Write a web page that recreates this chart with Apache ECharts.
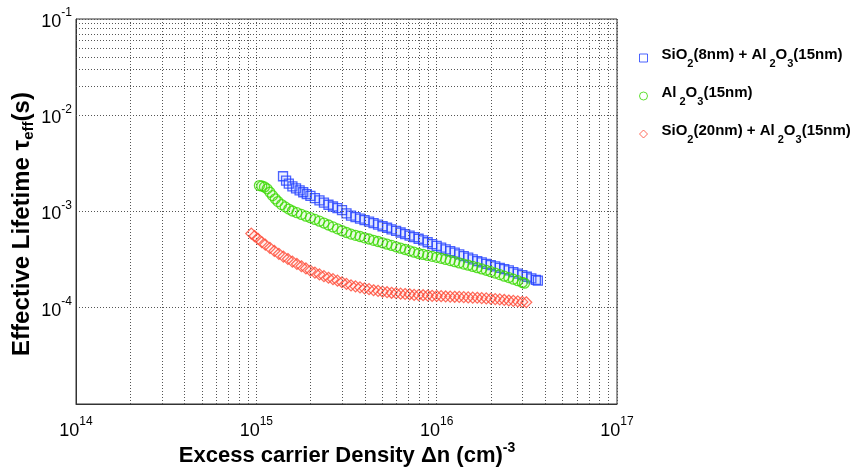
<!DOCTYPE html>
<html>
<head>
<meta charset="utf-8">
<script src="https://cdn.jsdelivr.net/npm/echarts@6/dist/echarts.min.js"></script>
<style>
  html, body { margin: 0; padding: 0; background: #fff; }
  #chart { width: 864px; height: 474px; }
</style>
</head>
<body>
<div id="chart"></div>
<script>
// Effective lifetime vs. excess carrier density for three passivation stacks

const seriesNames = ['SiO2(8nm) + Al2O3(15nm)', 'Al2O3(15nm)', 'SiO2(20nm) + Al2O3(15nm)'];

// SiO2(8nm) + Al2O3(15nm)
const stackA_dn = [1.406e15, 1.462e15, 1.514e15, 1.585e15, 1.660e15, 1.738e15, 1.820e15, 1.905e15, 1.995e15,
  2.113e15, 2.239e15, 2.371e15, 2.512e15, 2.661e15, 2.818e15, 2.985e15, 3.162e15, 3.350e15, 3.548e15, 3.758e15,
  3.981e15, 4.217e15, 4.467e15, 4.732e15, 5.012e15, 5.309e15, 5.623e15, 5.957e15, 6.310e15, 6.683e15, 7.079e15,
  7.499e15, 7.943e15, 8.414e15, 8.913e15, 9.441e15, 1.000e16, 1.059e16, 1.122e16, 1.189e16, 1.259e16, 1.334e16,
  1.413e16, 1.496e16, 1.585e16, 1.679e16, 1.778e16, 1.884e16, 1.995e16, 2.113e16, 2.239e16, 2.371e16, 2.512e16,
  2.661e16, 2.818e16, 2.985e16, 3.162e16, 3.350e16, 3.548e16, 3.640e16];
const stackA_tau = [2.323e-3, 2.089e-3, 1.950e-3, 1.820e-3, 1.738e-3, 1.660e-3, 1.585e-3, 1.514e-3, 1.452e-3,
  1.374e-3, 1.303e-3, 1.236e-3, 1.175e-3, 1.127e-3, 1.084e-3, 1.035e-3, 9.55e-4, 9.08e-4, 8.75e-4, 8.43e-4,
  8.13e-4, 7.85e-4, 7.57e-4, 7.29e-4, 7.03e-4, 6.78e-4, 6.53e-4, 6.30e-4, 6.05e-4, 5.83e-4, 5.62e-4,
  5.42e-4, 5.21e-4, 5.00e-4, 4.79e-4, 4.59e-4, 4.40e-4, 4.21e-4, 4.04e-4, 3.88e-4, 3.73e-4, 3.58e-4,
  3.44e-4, 3.31e-4, 3.18e-4, 3.05e-4, 2.96e-4, 2.86e-4, 2.77e-4, 2.69e-4, 2.60e-4, 2.52e-4, 2.44e-4,
  2.35e-4, 2.26e-4, 2.18e-4, 2.10e-4, 2.02e-4, 1.95e-4, 1.91e-4];

// Al2O3(15nm)
const stackB_dn = [1.040e15, 1.072e15, 1.109e15, 1.148e15, 1.189e15, 1.230e15, 1.274e15, 1.318e15, 1.380e15,
  1.445e15, 1.514e15, 1.585e15, 1.679e15, 1.778e15, 1.884e15, 1.995e15, 2.113e15, 2.239e15, 2.371e15, 2.512e15,
  2.661e15, 2.818e15, 2.985e15, 3.162e15, 3.350e15, 3.548e15, 3.758e15, 3.981e15, 4.217e15, 4.467e15, 4.732e15,
  5.012e15, 5.309e15, 5.623e15, 5.957e15, 6.310e15, 6.683e15, 7.079e15, 7.499e15, 7.943e15, 8.414e15, 8.913e15,
  9.441e15, 1.000e16, 1.059e16, 1.122e16, 1.189e16, 1.259e16, 1.334e16, 1.413e16, 1.496e16, 1.585e16, 1.679e16,
  1.778e16, 1.884e16, 1.995e16, 2.113e16, 2.239e16, 2.371e16, 2.512e16, 2.661e16, 2.818e16, 2.985e16, 3.070e16];
const stackB_tau = [1.858e-3, 1.841e-3, 1.799e-3, 1.718e-3, 1.585e-3, 1.462e-3, 1.355e-3, 1.268e-3, 1.180e-3,
  1.117e-3, 1.059e-3, 1.012e-3, 9.73e-4, 9.33e-4, 8.95e-4, 8.63e-4, 8.28e-4, 7.94e-4, 7.59e-4, 7.24e-4,
  6.92e-4, 6.61e-4, 6.31e-4, 6.05e-4, 5.82e-4, 5.65e-4, 5.50e-4, 5.33e-4, 5.18e-4, 5.02e-4, 4.88e-4,
  4.73e-4, 4.58e-4, 4.44e-4, 4.30e-4, 4.16e-4, 4.03e-4, 3.90e-4, 3.78e-4, 3.66e-4, 3.58e-4, 3.50e-4,
  3.42e-4, 3.34e-4, 3.26e-4, 3.18e-4, 3.09e-4, 3.01e-4, 2.92e-4, 2.84e-4, 2.77e-4, 2.69e-4, 2.61e-4,
  2.53e-4, 2.45e-4, 2.37e-4, 2.29e-4, 2.21e-4, 2.13e-4, 2.06e-4, 1.98e-4, 1.91e-4, 1.83e-4, 1.80e-4];

// SiO2(20nm) + Al2O3(15nm)
const stackC_dn = [9.38e14, 9.77e14, 1.023e15, 1.072e15, 1.122e15, 1.189e15, 1.259e15, 1.334e15, 1.413e15,
  1.496e15, 1.585e15, 1.679e15, 1.778e15, 1.884e15, 1.995e15, 2.113e15, 2.239e15, 2.371e15, 2.512e15, 2.661e15,
  2.818e15, 2.985e15, 3.162e15, 3.350e15, 3.548e15, 3.758e15, 3.981e15, 4.217e15, 4.467e15, 4.732e15, 5.012e15,
  5.309e15, 5.623e15, 5.957e15, 6.310e15, 6.683e15, 7.079e15, 7.499e15, 7.943e15, 8.414e15, 8.913e15, 9.441e15,
  1.000e16, 1.059e16, 1.122e16, 1.189e16, 1.259e16, 1.334e16, 1.413e16, 1.496e16, 1.585e16, 1.679e16, 1.778e16,
  1.884e16, 1.995e16, 2.113e16, 2.239e16, 2.371e16, 2.512e16, 2.661e16, 2.818e16, 2.985e16, 3.140e16];
const stackC_tau = [5.90e-4, 5.56e-4, 5.19e-4, 4.81e-4, 4.52e-4, 4.19e-4, 3.89e-4, 3.63e-4, 3.40e-4,
  3.21e-4, 3.02e-4, 2.85e-4, 2.70e-4, 2.56e-4, 2.43e-4, 2.32e-4, 2.22e-4, 2.13e-4, 2.05e-4, 1.98e-4,
  1.91e-4, 1.84e-4, 1.77e-4, 1.71e-4, 1.67e-4, 1.63e-4, 1.59e-4, 1.56e-4, 1.52e-4, 1.50e-4, 1.47e-4,
  1.45e-4, 1.43e-4, 1.42e-4, 1.40e-4, 1.39e-4, 1.38e-4, 1.36e-4, 1.355e-4, 1.35e-4, 1.34e-4, 1.33e-4,
  1.325e-4, 1.32e-4, 1.31e-4, 1.305e-4, 1.30e-4, 1.295e-4, 1.29e-4, 1.28e-4, 1.275e-4, 1.27e-4, 1.26e-4,
  1.25e-4, 1.24e-4, 1.23e-4, 1.22e-4, 1.205e-4, 1.19e-4, 1.18e-4, 1.165e-4, 1.15e-4, 1.14e-4];

// axis ranges (decades)
const xDecades = [1e14, 1e15, 1e16, 1e17];
const yDecades = [1e-5, 1e-4, 1e-3, 1e-2, 1e-1];

const colors = ['#1f3dff', '#38d800', '#ff4632'];
const FONT = 'Liberation Sans, Arial, Helvetica, sans-serif';

function pairs(xs, ys) { return xs.map((x, i) => [x, ys[i]]); }

// minor grid positions: 2..9 within every decade
function minorValues(decades) {
  const out = [];
  for (let d = 0; d < decades.length - 1; d++) {
    for (let k = 2; k <= 9; k++) out.push(+(decades[d] * k).toPrecision(3));
  }
  return out;
}
const gridLineStyle = { color: '#555', type: [1, 2], width: 1 };

const minorMarks = []
  .concat(minorValues(xDecades).map(v => ({ xAxis: v })))
  .concat(minorValues(yDecades).map(v => ({ yAxis: v })));

function powLabel(v) {
  const e = Math.round(Math.log10(v));
  return '{b|10}{s|' + e + '}';
}
const tickRich = {
  b: { fontSize: 18, fontFamily: FONT, color: '#000', lineHeight: 24, verticalAlign: 'bottom' },
  s: { fontSize: 12, fontFamily: FONT, color: '#000', lineHeight: 9, verticalAlign: 'top' }
};

const legendText = {
  'SiO2(8nm) + Al2O3(15nm)': '{h|SiO}{sub|2}{t|(8nm) + Al}{sub2|2}{t|O}{sub|3}{t|(15nm)}',
  'Al2O3(15nm)': '{h|Al}{sub2|2}{t|O}{sub|3}{t|(15nm)}',
  'SiO2(20nm) + Al2O3(15nm)': '{h|SiO}{sub|2}{t|(20nm) + Al}{sub2|2}{t|O}{sub|3}{t|(15nm)}'
};
const legendBase = { fontSize: 15, fontWeight: 'bold', fontFamily: FONT, color: '#000', lineHeight: 22, verticalAlign: 'top' };
const legendSub = { fontSize: 11, fontWeight: 'bold', fontFamily: FONT, color: '#000', lineHeight: 8, verticalAlign: 'bottom' };

const symbols = ['rect', 'circle', 'diamond'];
const sizes = [9, 10, 11];

const chart = echarts.init(document.getElementById('chart'), null, { renderer: 'canvas' });

chart.setOption({
  animation: false,
  backgroundColor: '#fff',
  grid: { left: 76, top: 19, width: 541, height: 385, show: true, borderColor: '#333', borderWidth: 1, backgroundColor: 'transparent' },
  xAxis: {
    type: 'log', logBase: 10, min: xDecades[0], max: xDecades[xDecades.length - 1],
    axisLine: { show: true, lineStyle: { color: '#333', width: 1 } },
    axisTick: { show: false },
    splitLine: { show: true, lineStyle: gridLineStyle },
    axisLabel: { formatter: powLabel, rich: tickRich, margin: 12 }
  },
  yAxis: {
    type: 'log', logBase: 10, min: yDecades[0], max: yDecades[yDecades.length - 1],
    axisLine: { show: true, lineStyle: { color: '#333', width: 1 } },
    axisTick: { show: false },
    splitLine: { show: true, lineStyle: gridLineStyle },
    axisLabel: { formatter: powLabel, rich: tickRich, margin: 4, showMinLabel: false }
  },
  legend: {
    orient: 'vertical', left: 634, top: 42,
    itemWidth: 8, itemHeight: 8, itemGap: 16,
    selectedMode: false,
    data: seriesNames.map((n, i) => ({
      name: n, icon: symbols[i],
      itemStyle: { color: 'transparent', borderColor: colors[i], borderWidth: 1 }
    })),
    formatter: n => legendText[n],
    textStyle: {
      rich: {
        h: Object.assign({}, legendBase, { padding: [0, 0, 0, 9] }),
        t: legendBase,
        sub: legendSub,
        sub2: Object.assign({}, legendSub, { padding: [0, 0, 0, 3] })
      }
    }
  },
  graphic: [
    {
      type: 'text', x: 23, y: 224, rotation: Math.PI / 2, silent: true,
      style: {
        text: '{t|Effective Lifetime τ}{sub|eff}{t|(s)}',
        align: 'center', verticalAlign: 'middle',
        rich: {
          t: { fontSize: 24, fontWeight: 'bold', fontFamily: FONT, fill: '#000', lineHeight: 26, verticalAlign: 'top' },
          sub: { fontSize: 15, fontWeight: 'bold', fontFamily: FONT, fill: '#000', lineHeight: 12, verticalAlign: 'bottom' }
        }
      }
    },
    {
      type: 'text', x: 347, y: 454, silent: true,
      style: {
        text: '{t|Excess carrier Density Δn (cm)}{sup|-3}',
        align: 'center', verticalAlign: 'middle',
        rich: {
          t: { fontSize: 22, fontWeight: 'bold', fontFamily: FONT, fill: '#000', lineHeight: 26, verticalAlign: 'bottom' },
          sup: { fontSize: 14, fontWeight: 'bold', fontFamily: FONT, fill: '#000', lineHeight: 10, verticalAlign: 'top' }
        }
      }
    }
  ],
  series: [
    {
      name: 'minor-grid', type: 'scatter', symbolSize: 0, silent: true,
      data: [[1e15, 1e-3]],
      markLine: {
        silent: true, symbol: ['none', 'none'], label: { show: false },
        lineStyle: gridLineStyle, animation: false,
        data: minorMarks
      }
    },
    {
      name: seriesNames[0], type: 'scatter', symbol: symbols[0], symbolSize: sizes[0],
      itemStyle: { color: 'rgba(90,120,255,0.12)', borderColor: colors[0], borderWidth: 1.3 },
      data: pairs(stackA_dn, stackA_tau)
    },
    {
      name: seriesNames[1], type: 'scatter', symbol: symbols[1], symbolSize: sizes[1],
      itemStyle: { color: 'rgba(80,230,0,0.08)', borderColor: colors[1], borderWidth: 1.3 },
      data: pairs(stackB_dn, stackB_tau)
    },
    {
      name: seriesNames[2], type: 'scatter', symbol: symbols[2], symbolSize: sizes[2],
      itemStyle: { color: 'rgba(255,80,60,0.06)', borderColor: colors[2], borderWidth: 1.2 },
      data: pairs(stackC_dn, stackC_tau)
    }
  ]
});
</script>
</body>
</html>
